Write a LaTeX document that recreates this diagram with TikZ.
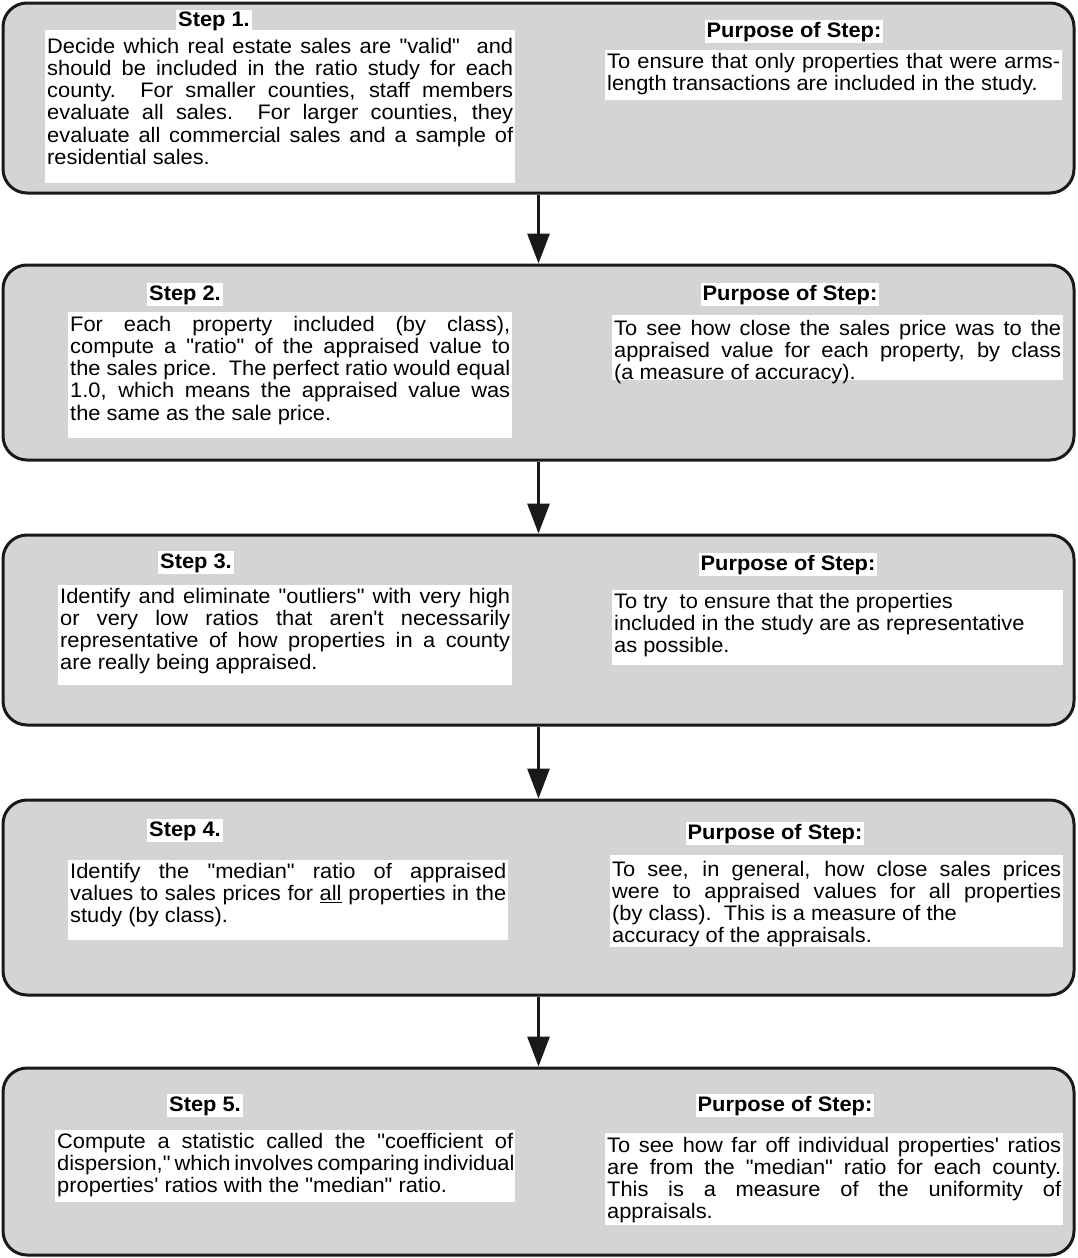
\documentclass[tikz,border=0pt]{standalone}
\usepackage{fontspec}
\newfontfamily\hv[FakeStretch=1.04]{Liberation Sans}
\usetikzlibrary{arrows.meta}
\definecolor{boxgray}{gray}{0.83}
\definecolor{edgecol}{gray}{0.10}
\newcommand\JL[1]{\hbox to \hsize{\rule{0pt}{16pt}#1}}
\newcommand\RL[1]{\hbox to \hsize{\rule{0pt}{16pt}#1\hfil}}
\newcommand\TXT[4]{\vbox to #2pt{\hsize=#1pt\relax\vskip #3pt\relax #4\vfil}}
\tikzset{
  stepbox/.style={draw=edgecol, line width=3pt, fill=boxgray, rounded corners=24pt, minimum width=1071pt, inner sep=0pt},
  tb/.style={fill=white, inner xsep=2pt, inner ysep=0pt, anchor=north west, font=\hv\fontsize{21}{22.2}\selectfont},
  lab/.style={fill=white, inner xsep=2pt, inner ysep=2pt, anchor=base, font=\hv\bfseries\fontsize{21}{22.2}\selectfont},
  arr/.style={line width=3pt, draw=edgecol, -{Triangle[length=30pt,width=22pt]}}
}
\begin{document}
\begin{tikzpicture}[x=1pt,y=-1pt]
\useasboundingbox (0,0) rectangle (1077,1258);
% outer boxes
\node[stepbox, minimum height=190pt] (b1) at (538.5,98) {};
\node[stepbox, minimum height=195pt] (b2) at (538.5,362.5) {};
\node[stepbox, minimum height=190pt] (b3) at (538.5,630) {};
\node[stepbox, minimum height=195pt] (b4) at (538.5,897.5) {};
\node[stepbox, minimum height=187pt] (b5) at (538.5,1161.5) {};
% arrows
\draw[arr] (b1.south) -- (b2.north);
\draw[arr] (b2.south) -- (b3.north);
\draw[arr] (b3.south) -- (b4.north);
\draw[arr] (b4.south) -- (b5.north);
% Step 1
\node[tb] (l1) at (45,30) {\TXT{466}{153}{7}{%
\JL{Decide which real estate sales are "valid"\ \ and}%
\JL{should be included in the ratio study for each}%
\JL{county.\ \ For smaller counties, staff members}%
\JL{evaluate all sales.\ \ For larger counties, they}%
\JL{evaluate all commercial sales and a sample of}%
\RL{residential sales.}}};
\node[tb] (r1) at (605,50) {\TXT{453}{50}{2}{%
\JL{To ensure that only properties that were arms-}%
\RL{length transactions are included in the study.}}};
\node[lab] (s1) at (214,27) {Step 1.};
\node[lab] (p1) at (794,37) {Purpose of Step:};
% Step 2
\node[tb] (l2) at (68,312) {\TXT{440}{126}{3}{%
\JL{For each property included (by class),}%
\JL{compute a "ratio" of the appraised value to}%
\JL{the sales price.\ \ The perfect ratio would equal}%
\JL{1.0, which means the appraised value was}%
\RL{the same as the sale price.}}};
\node[tb] (r2) at (612,315) {\TXT{447}{65}{4}{%
\JL{To see how close the sales price was to the}%
\JL{appraised value for each property, by class}%
\RL{(a measure of accuracy).}}};
\node[lab] (s2) at (185,300) {Step 2.};
\node[lab] (p2) at (790,300) {Purpose of Step:};
% Step 3
\node[tb] (l3) at (58,585) {\TXT{450}{100}{2}{%
\JL{Identify and eliminate "outliers" with very high}%
\JL{or very low ratios that aren't necessarily}%
\JL{representative of how properties in a county}%
\RL{are really being appraised.}}};
\node[tb] (r3) at (612,590) {\TXT{447}{75}{2}{%
\RL{To try\ \ to ensure that the properties}%
\RL{included in the study are as representative}%
\RL{as possible.}}};
\node[lab] (s3) at (196,568) {Step 3.};
\node[lab] (p3) at (788,570) {Purpose of Step:};
% Step 4
\node[tb] (l4) at (68,860) {\TXT{436}{80}{2}{%
\JL{Identify the "median" ratio of appraised}%
\JL{values to sales prices for \underline{all} properties in the}%
\RL{study (by class).}}};
\node[tb] (r4) at (610,855) {\TXT{449}{92}{5}{%
\JL{To see, in general, how close sales prices}%
\JL{were to appraised values for all properties}%
\RL{(by class).\ \ This is a measure of the}%
\RL{accuracy of the appraisals.}}};
\node[lab] (s4) at (185,836) {Step 4.};
\node[lab] (p4) at (775,839) {Purpose of Step:};
% Step 5
\node[tb] (l5) at (55,1130) {\TXT{456}{72}{2}{%
\JL{Compute a statistic called the "coefficient of}%
\JL{dispersion," which involves comparing individual}%
\RL{properties' ratios with the "median" ratio.}}};
\node[tb] (r5) at (605,1133) {\TXT{454}{92}{3}{%
\JL{To see how far off individual properties' ratios}%
\JL{are from the "median" ratio for each county.}%
\JL{This is a measure of the uniformity of}%
\RL{appraisals.}}};
\node[lab] (s5) at (205,1111) {Step 5.};
\node[lab] (p5) at (785,1111) {Purpose of Step:};
\end{tikzpicture}
\end{document}
